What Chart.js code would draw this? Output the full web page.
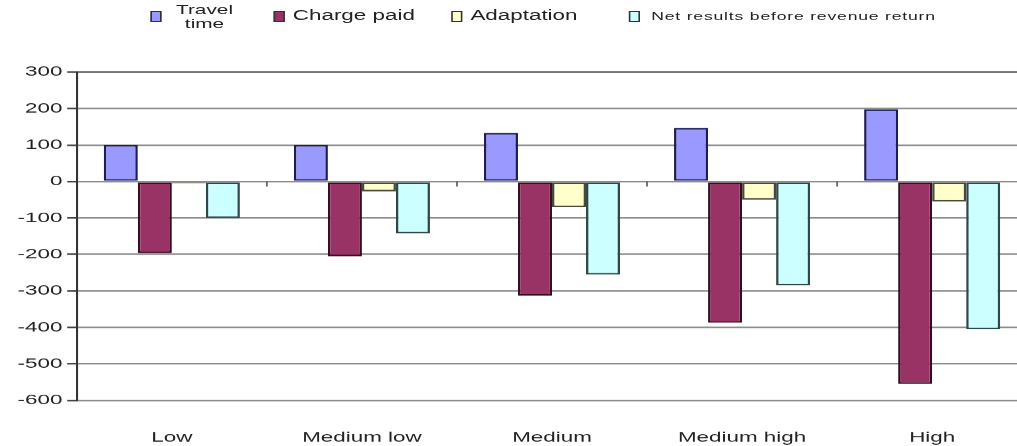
<!DOCTYPE html>
<html>
<head>
<meta charset="utf-8">
<script src="https://cdn.jsdelivr.net/npm/chart.js@4.4.1/dist/chart.umd.min.js"></script>
<style>
  html, body { margin: 0; padding: 0; background: #fff; width: 1017px; height: 446px; overflow: hidden; }
  /* the whole figure is drawn narrow and widened horizontally */
  #stage {
    position: absolute; left: 0; top: 0; width: 645px; height: 446px;
    transform: scaleX(1.6); transform-origin: 0 0;
    font-family: "Liberation Sans", Arial, sans-serif; color: #222;
  }
  #chart { position: absolute; left: 0; top: 0; }
  .key { position: absolute; width: 7px; height: 11px; border: 1px solid #333; box-sizing: border-box; }
  .lbl { position: absolute; font-size: 13px; line-height: 13px; white-space: nowrap; }
</style>
</head>
<body>
<div id="stage">
  <canvas id="chart" width="645" height="446"></canvas>
  <div id="legend"></div>
</div>
<script>
// categories and series
const levels = ['Low', 'Medium low', 'Medium', 'Medium high', 'High'];
const travelTime = [100, 100, 133, 147, 198];
const chargePaid = [-196, -205, -313, -387, -555];
const adaptation = [-5, -27, -70, -50, -55];
const netBeforeReturn = [-100, -142, -255, -285, -405];

const yTicks = [300, 200, 100, 0, -100, -200, -300, -400, -500, -600];

const series = [
  { label: 'Travel time', data: travelTime, fill: '#9999ff', line: '#1c1c58' },
  { label: 'Charge paid', data: chargePaid, fill: '#993366', line: '#3a0c22' },
  { label: 'Adaptation', data: adaptation, fill: '#ffffcc', line: '#4a4a3a' },
  { label: 'Net results before revenue return', data: netBeforeReturn, fill: '#ccffff', line: '#2c4848' }
];

// legend row above the plot
const legendSpots = [
  { box: 94, text: 110, lines: ['Travel', 'time'], size: 13, spacing: 0 },
  { box: 171, text: 183, lines: ['Charge paid'], size: 14, spacing: 0 },
  { box: 282, text: 294, lines: ['Adaptation'], size: 14, spacing: 0 },
  { box: 393, text: 407, lines: ['Net results before revenue return'], size: 11, spacing: 0.5 }
];
const legend = document.getElementById('legend');
series.forEach((s, i) => {
  const spot = legendSpots[i];
  const k = document.createElement('div');
  k.className = 'key';
  k.style.left = spot.box + 'px';
  k.style.top = '11px';
  k.style.background = s.fill;
  legend.appendChild(k);
  const t = document.createElement('div');
  t.className = 'lbl';
  t.style.left = spot.text + 'px';
  t.style.fontSize = spot.size + 'px';
  t.style.letterSpacing = spot.spacing + 'px';
  if (spot.lines.length > 1) {
    t.style.top = '3px';
    t.style.lineHeight = '14px';
    t.style.textAlign = 'center';
    t.innerHTML = spot.lines.join('<br>');
  } else {
    t.style.top = (16 - spot.size / 2 - 0.5) + 'px';
    t.textContent = spot.lines[0];
  }
  legend.appendChild(t);
});

// little downward ticks on the zero line between the groups
const zeroTicks = {
  id: 'zeroTicks',
  afterDraw(chart) {
    const { ctx, scales: { x, y } } = chart;
    const y0 = y.getPixelForValue(0);
    ctx.save();
    ctx.strokeStyle = '#555';
    ctx.lineWidth = 1;
    for (let i = 1; i < levels.length; i++) {
      const xp = (x.getPixelForValue(i - 1) + x.getPixelForValue(i)) / 2;
      ctx.beginPath();
      ctx.moveTo(xp, y0);
      ctx.lineTo(xp, y0 + 5);
      ctx.stroke();
    }
    ctx.restore();
  }
};

new Chart(document.getElementById('chart'), {
  type: 'bar',
  data: {
    labels: levels,
    datasets: series.map(s => ({
      label: s.label,
      data: s.data,
      backgroundColor: s.fill,
      borderColor: s.line,
      borderWidth: 1.6,
      borderSkipped: false,
      barPercentage: 1,
      categoryPercentage: 0.716
    }))
  },
  options: {
    responsive: false,
    animation: false,
    devicePixelRatio: 1.6,
    layout: { padding: { top: 72, right: 3, left: 0, bottom: 0 } },
    plugins: { legend: { display: false }, tooltip: { enabled: false } },
    scales: {
      x: {
        grid: { display: false, drawTicks: false },
        border: { display: false },
        ticks: {
          padding: 29,
          color: '#222',
          font: { family: '"Liberation Sans", Arial, sans-serif', size: 14 }
        },
        afterFit: (scale) => { scale.height = 46; }
      },
      y: {
        min: -600,
        max: 300,
        afterBuildTicks: (scale) => { scale.ticks = yTicks.map(v => ({ value: v })); },
        ticks: {
          padding: 3,
          color: '#222',
          font: { family: '"Liberation Sans", Arial, sans-serif', size: 14 }
        },
        grid: {
          color: (c) => (c.tick && c.tick.value === 300 ? '#555' : '#8c8c8c'),
          lineWidth: 1.6,
          tickLength: 6,
          tickColor: '#444'
        },
        border: { color: '#333', width: 1.3 },
        afterFit: (scale) => { scale.width = 48; }
      }
    }
  },
  plugins: [zeroTicks]
});
</script>
</body>
</html>
